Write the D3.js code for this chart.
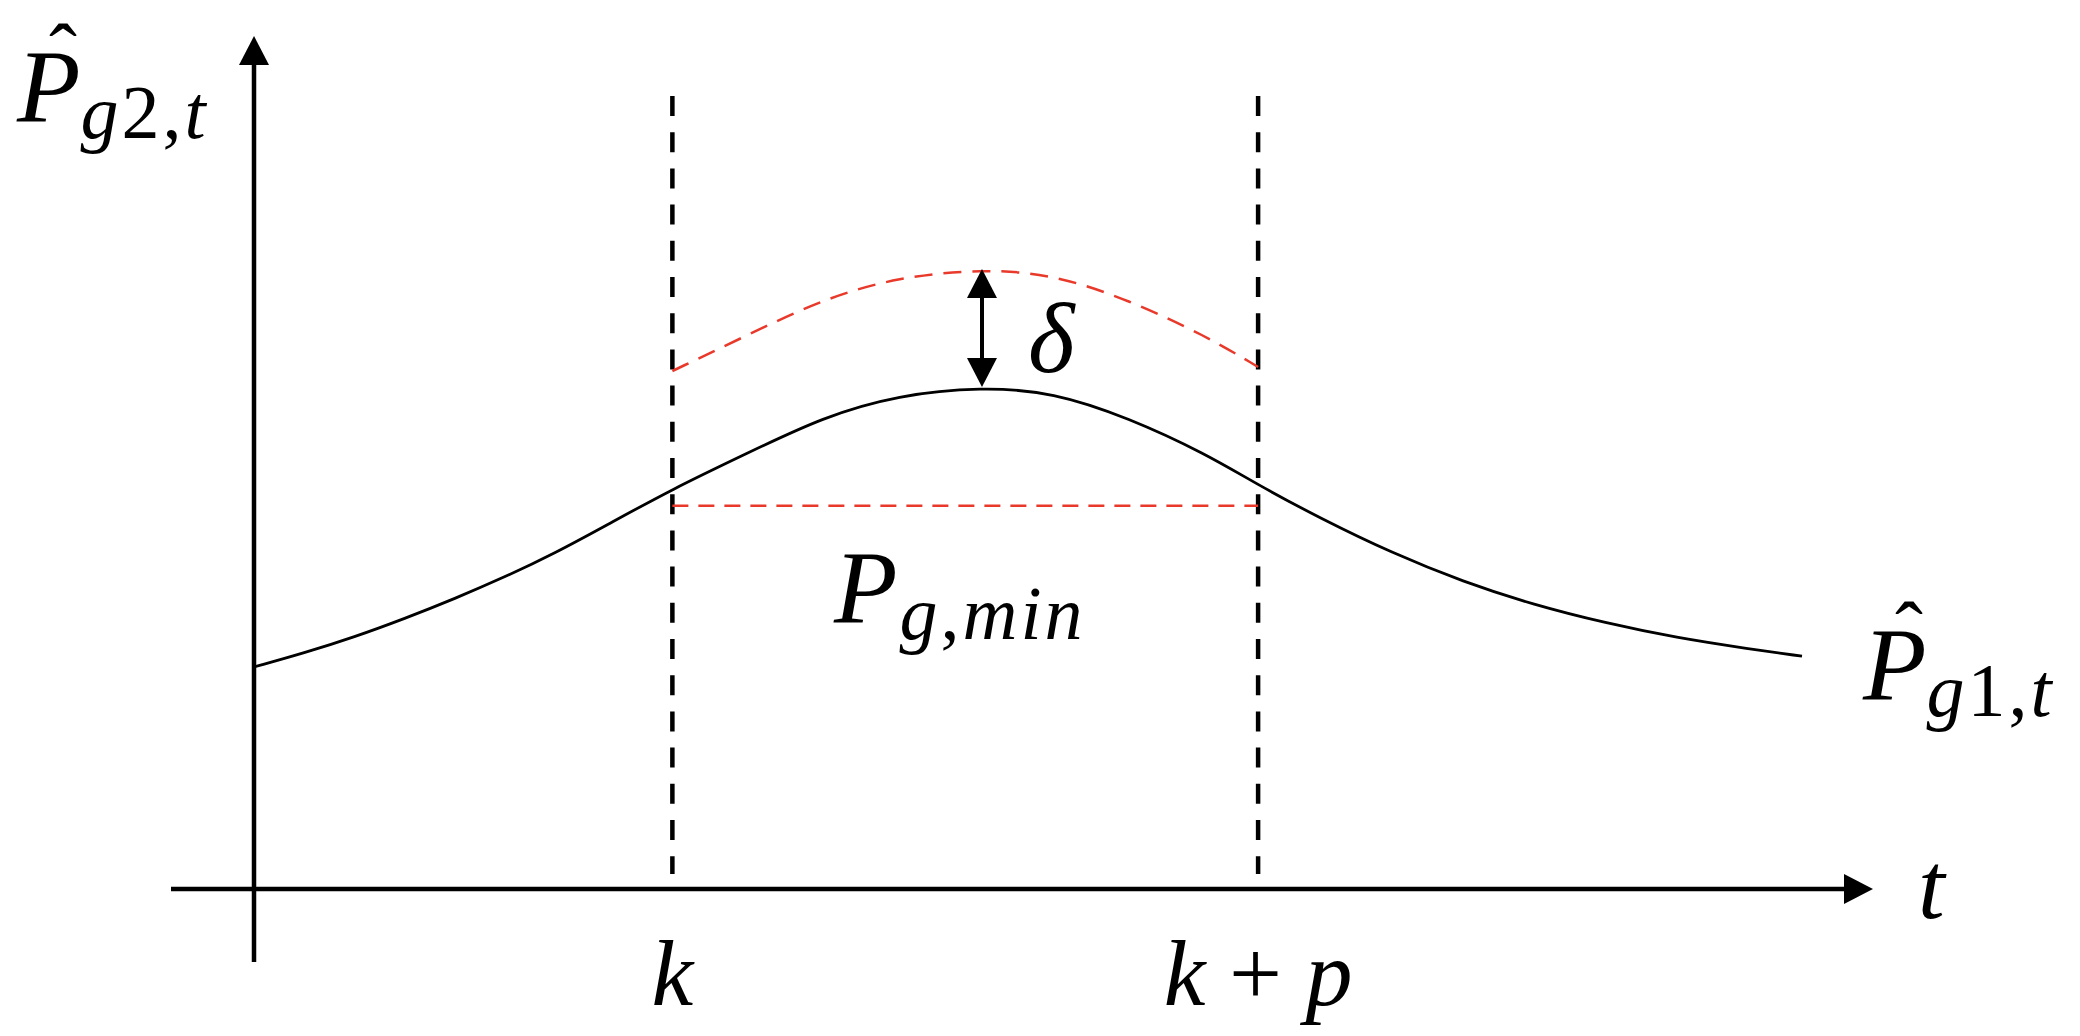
<!DOCTYPE html>
<html>
<head>
<meta charset="utf-8">
<script src="https://cdn.jsdelivr.net/npm/d3@7"></script>
<style>
  body { margin: 0; background: #fff; }
  text { font-family: "Liberation Serif", "Times New Roman", serif; font-style: italic; fill: #000; }
  .up { font-style: normal; }
</style>
</head>
<body>
<div id="my_dataviz"></div>
<script>
// time samples and forecast power
var tSamples = [0, 1.2, 2.4, 3.6, 4.8, 6, 7.2, 8.4, 10, 11.8, 13.6, 15.4, 17.4, 19.1, 20.9, 22.75, 24, 25.5, 27.2, 28.9, 30.6, 32.3, 34, 35.75, 37];
var forecast = [27.75, 29.5, 31.5, 33.8, 36.3, 39, 42, 45.4, 50, 54.5, 59, 61.75, 62.75, 62.1, 58.9, 54.4, 50.5, 46.3, 42, 38.4, 35.5, 33.25, 31.4, 30, 29.1];

// prediction window [k, k+p], offset delta and lower limit
var windowT = [10, 24];
var windowLabels = ["k", "k + p"];
var delta = 14.75;
var pMin = 47.9;
var peakT = 17.4;
var peakP = 62.75;

var width = 2080, height = 1036;
var red = "#e8392b";

var svg = d3.select("#my_dataviz")
  .append("svg")
  .attr("width", width)
  .attr("height", height)
  .style("background", "#fff");

var x = d3.scaleLinear().domain([0, 37]).range([254, 1802]);
var y = d3.scaleLinear().domain([0, 100]).range([889, 89]);

var data = tSamples.map(function (t, i) { return { t: t, p: forecast[i] }; });
var upper = data
  .filter(function (d) { return d.t >= windowT[0] && d.t <= windowT[1]; })
  .map(function (d) { return { t: d.t, p: d.p + delta }; });

// simple triangle head, tip at (tx,ty), pointing along (dx,dy)
function arrowHead(tx, ty, dx, dy, len, half) {
  var p = d3.path();
  var bx = tx - dx * len, by = ty - dy * len;
  p.moveTo(tx, ty);
  p.lineTo(bx - dy * half, by + dx * half);
  p.lineTo(bx + dy * half, by - dx * half);
  p.closePath();
  return p.toString();
}

// axes
var x0 = x(0), y0 = y(0);
svg.append("line")
  .attr("x1", 171).attr("x2", 1846)
  .attr("y1", y0).attr("y2", y0)
  .attr("stroke", "#000").attr("stroke-width", 4.5);
svg.append("path").attr("d", arrowHead(1873, y0, 1, 0, 29, 15)).attr("fill", "#000");
svg.append("line")
  .attr("x1", x0).attr("x2", x0)
  .attr("y1", 962).attr("y2", 63)
  .attr("stroke", "#000").attr("stroke-width", 4.5);
svg.append("path").attr("d", arrowHead(x0, 36, 0, -1, 29, 15)).attr("fill", "#000");

// window borders
svg.selectAll(".win")
  .data(windowT)
  .enter()
  .append("line")
  .attr("class", "win")
  .attr("x1", function (d) { return x(d); })
  .attr("x2", function (d) { return x(d); })
  .attr("y1", 96).attr("y2", 874)
  .attr("stroke", "#000")
  .attr("stroke-width", 4.5)
  .attr("stroke-dasharray", "20,16.2");

// P_min line
svg.append("line")
  .attr("x1", x(windowT[0])).attr("x2", x(windowT[1]))
  .attr("y1", y(pMin)).attr("y2", y(pMin))
  .attr("stroke", red)
  .attr("stroke-width", 2.5)
  .attr("stroke-dasharray", "16,10");

var line = d3.line()
  .curve(d3.curveBasis)
  .x(function (d) { return x(d.t); })
  .y(function (d) { return y(d.p); });

// forecast curve
svg.append("path")
  .datum(data)
  .attr("fill", "none")
  .attr("stroke", "#000")
  .attr("stroke-width", 2.8)
  .attr("d", line);

// shifted curve
svg.append("path")
  .datum(upper)
  .attr("fill", "none")
  .attr("stroke", red)
  .attr("stroke-width", 2.5)
  .attr("stroke-dasharray", "18,11")
  .attr("d", line);

// delta arrow
var yTop = y(peakP + delta), yBot = y(peakP);
svg.append("line")
  .attr("x1", x(peakT)).attr("x2", x(peakT))
  .attr("y1", yTop + 25).attr("y2", yBot - 25)
  .attr("stroke", "#000").attr("stroke-width", 4);
svg.append("path").attr("d", arrowHead(x(peakT), yTop, 0, -1, 29, 15)).attr("fill", "#000");
svg.append("path").attr("d", arrowHead(x(peakT), yBot, 0, 1, 29, 15)).attr("fill", "#000");

svg.append("text")
  .attr("x", 1028).attr("y", 372)
  .attr("font-size", 100)
  .text("δ");

// power labels, optional hat drawn as a positioned tspan
function powerLabel(px, py, hat, upText, rest) {
  var t = svg.append("text").attr("font-size", 104);
  if (hat) {
    t.append("tspan")
      .attr("x", px + 46).attr("y", py - 40)
      .attr("font-size", 84)
      .attr("class", "up")
      .attr("text-anchor", "middle")
      .text("ˆ");
  }
  t.append("tspan").attr("x", px).attr("y", py).text("P");
  var s = t.append("tspan").attr("font-size", 76).attr("dy", 16).attr("letter-spacing", 3);
  s.append("tspan").text("g");
  s.append("tspan").attr("class", "up").text(upText);
  s.append("tspan").text(rest);
  return t;
}
powerLabel(17, 122, true, "2,", "t");
powerLabel(1863, 700, true, "1,", "t");
powerLabel(834, 623, false, ",", "min").attr("letter-spacing", 2);

// tick labels under the window borders
var ticks = svg.selectAll(".tick")
  .data(windowLabels)
  .enter()
  .append("text")
  .attr("class", "tick")
  .attr("x", function (d, i) { return x(windowT[i]); })
  .attr("y", 1005)
  .attr("font-size", 94)
  .attr("text-anchor", "middle");
ticks.each(function (d) {
  var el = d3.select(this);
  var parts = d.split(" ");
  el.append("tspan").text(parts[0]);
  if (parts.length > 1) {
    el.append("tspan").attr("class", "up").text(" " + parts[1] + " ");
    el.append("tspan").text(parts[2]);
  }
});

svg.append("text")
  .attr("x", 1918).attr("y", 918)
  .attr("font-size", 96)
  .text("t");
</script>
</body>
</html>
